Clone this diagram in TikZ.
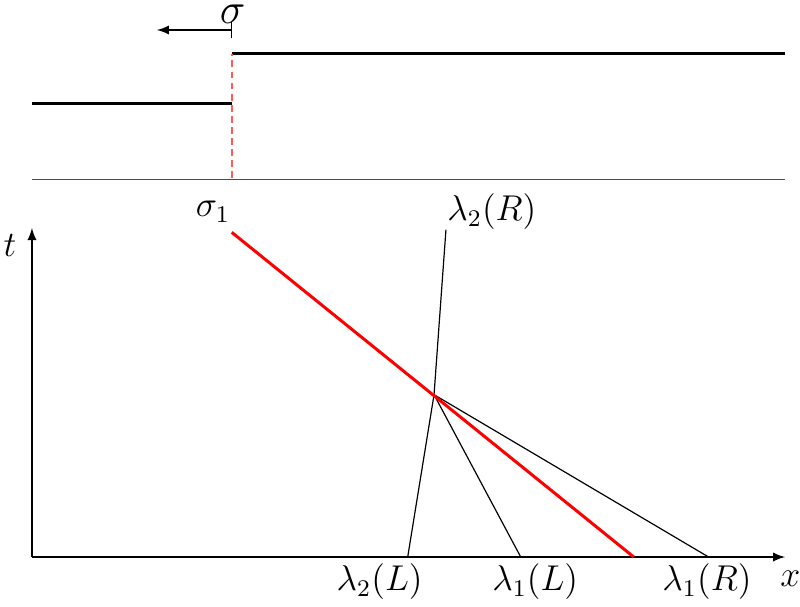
\documentclass[tikz,border=0pt]{standalone}
\usepackage{tikz}
\usetikzlibrary{calc,arrows}

\begin{document}
\begin{tikzpicture}[state/.style={line width=1pt, black}, wave/.style={thin, black}, lbl/.style={font=\large}]
	\useasboundingbox (-0.376,-0.576) rectangle (9.035,6.553);

	% top: the two states
	\coordinate (L0) at (0,5.33);
	\coordinate (L1) at (2.35,5.33);
	\coordinate (R0) at (2.35,5.92);
	\coordinate (R1) at (8.86,5.92);
	\coordinate (J) at (2.35,4.46);
	\coordinate (S0) at (2.35,6.20);
	\coordinate (S1) at (1.47,6.20);
	\coordinate (M0) at (0,4.44);
	\coordinate (M1) at (8.86,4.44);
	\node (s) [font=\Large, inner sep=0pt] at (2.36,6.38) {$\sigma$};

	\draw [state] (L0) to (L1);
	\draw [state] (R0) to (R1);
	\draw [color=red!65, line width=0.7pt, dash pattern=on 2.3pt off 1.4pt] (J) to (R0);
	\draw [latex-|, thin] (S1) to (S0);
	\draw [thin, black!70] (M0) to (M1);

	% bottom: x-t plane
	\coordinate (O) at (0,0);
	\coordinate (X) at (8.86,0);
	\coordinate (T) at (0,3.87);
	\node (t) [lbl] at (-0.26,3.67) {$t$};
	\node (x) [lbl] at (8.92,-0.25) {$x$};

	\coordinate (A) at (2.35,3.82);
	\coordinate (B) at (7.08,0);
	\coordinate (P) at (4.73,1.91);
	\coordinate (C) at (4.42,0);
	\coordinate (D) at (4.87,3.85);
	\coordinate (E) at (5.75,0);
	\coordinate (F) at (7.96,0);

	\node (a) [lbl] at (2.13,4.06) {$\sigma_1$};
	\node (d) [lbl] at (5.41,4.06) {$\lambda_2(R)$};
	\node (c) [lbl] at (4.09,-0.29) {$\lambda_2(L)$};
	\node (e) [lbl] at (5.92,-0.29) {$\lambda_1(L)$};
	\node (f) [lbl] at (7.94,-0.29) {$\lambda_1(R)$};

	\draw [-latex, thin] (O) to (X);
	\draw [-latex, thin] (O) to (T);
	\draw [wave] (C) to (P) to (D);
	\draw [wave] (P) to (E);
	\draw [wave] (P) to (F);
	\draw [line width=1pt, red] (A) to (B);

\end{tikzpicture}
\end{document}
